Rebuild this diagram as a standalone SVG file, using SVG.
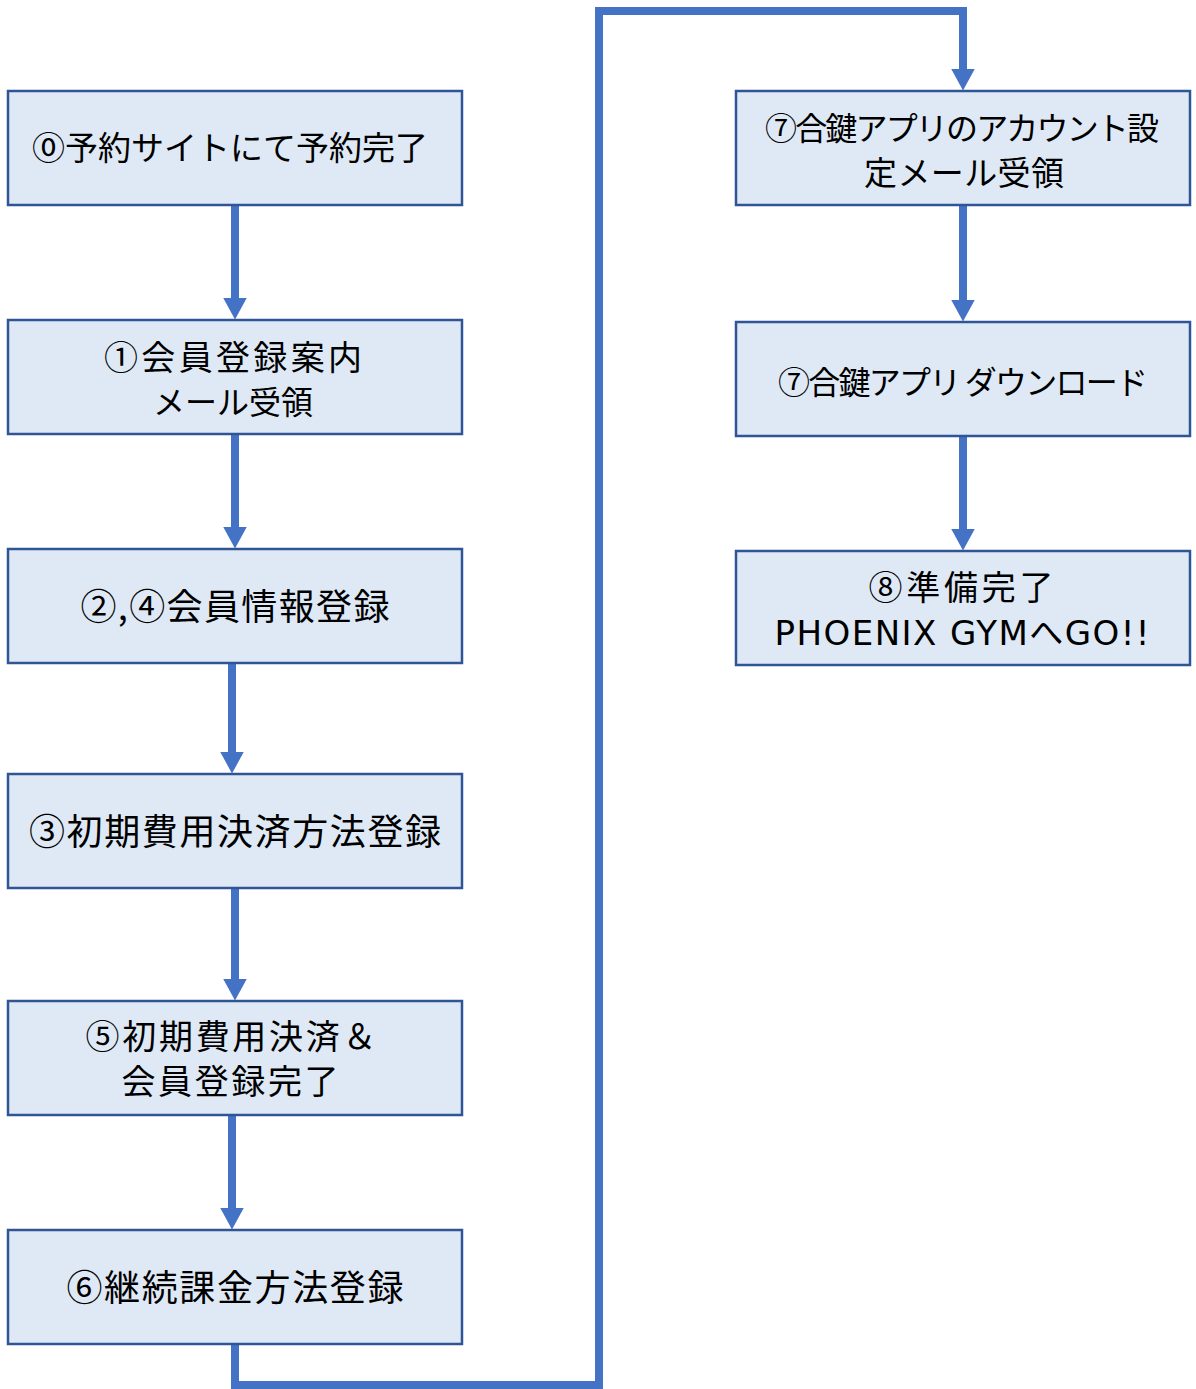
<svg xmlns="http://www.w3.org/2000/svg" width="1196" height="1389" viewBox="0 0 1196 1389">
<defs>
<style>
.box{fill:#DEE9F5;stroke:#2F5597;stroke-width:2.5}
.t{font-family:"Noto Sans CJK JP","Noto Sans",sans-serif;font-size:36px;fill:#000;text-anchor:middle}
.l{font-family:"DejaVu Sans","Noto Sans CJK JP",sans-serif}
.c{fill:none;stroke:#4472C4;stroke-width:8}
</style>
<marker id="ah" markerUnits="userSpaceOnUse" markerWidth="22" markerHeight="24" viewBox="0 0 22 24" refX="0.5" refY="12" orient="auto">
<path d="M0,0 L22,12 L0,24 Z" fill="#4472C4"/>
</marker>
</defs>
<rect width="1196" height="1389" fill="#fff"/>
<g id="connectors">
<path class="c" d="M235,205 V298" marker-end="url(#ah)"/>
<path class="c" d="M235,434 V527" marker-end="url(#ah)"/>
<path class="c" d="M232,663 V752" marker-end="url(#ah)"/>
<path class="c" d="M235,888 V979" marker-end="url(#ah)"/>
<path class="c" d="M232,1115 V1208" marker-end="url(#ah)"/>
<path class="c" d="M235,1344 V1385 H599 V11 H963 V69" marker-end="url(#ah)"/>
<path class="c" d="M963,205 V300" marker-end="url(#ah)"/>
<path class="c" d="M963,436 V529" marker-end="url(#ah)"/>
</g>
<g id="n0"><rect class="box" x="8" y="91" width="454" height="114"/><text class="t" x="230" y="160" style="font-size:33px" textLength="396">⓪予約サイトにて予約完了</text></g>
<g id="n1"><rect class="box" x="8" y="320" width="454" height="114"/><text class="t" style="font-size:34px"><tspan x="233" y="370" textLength="258">①会員登録案内</tspan><tspan x="233" y="414" style="font-size:32px" textLength="160">メール受領</tspan></text></g>
<g id="n2"><rect class="box" x="8" y="549" width="454" height="114"/><text class="t" x="235" y="620" textLength="309">②,④会員情報登録</text></g>
<g id="n3"><rect class="box" x="8" y="774" width="454" height="114"/><text class="t" x="235" y="845" textLength="412">③初期費用決済方法登録</text></g>
<g id="n5"><rect class="box" x="8" y="1001" width="454" height="114"/><text class="t" style="font-size:34px"><tspan x="231" y="1049" textLength="291">⑤初期費用決済＆</tspan><tspan x="230" y="1094" textLength="217">会員登録完了</tspan></text></g>
<g id="n6"><rect class="box" x="8" y="1230" width="454" height="114"/><text class="t" x="235" y="1301" textLength="337">⑥継続課金方法登録</text></g>
<g id="n7a"><rect class="box" x="736" y="91" width="454" height="114"/><text class="t" style="font-size:32px"><tspan x="962" y="140" textLength="394">⑦合鍵アプリのアカウント設</tspan><tspan x="964" y="185" style="font-size:33px" textLength="200">定メール受領</tspan></text></g>
<g id="n7b"><rect class="box" x="736" y="322" width="454" height="114"/><text class="t" x="963" y="394" style="font-size:32px" textLength="370">⑦合鍵アプリ ダウンロード</text></g>
<g id="n8"><rect class="box" x="736" y="551" width="454" height="114"/><text class="t" style="font-size:34px"><tspan x="961" y="600" textLength="185">⑧準備完了</tspan><tspan class="l" x="962" y="645" textLength="375">PHOENIX GYMへGO!!</tspan></text></g>
</svg>
